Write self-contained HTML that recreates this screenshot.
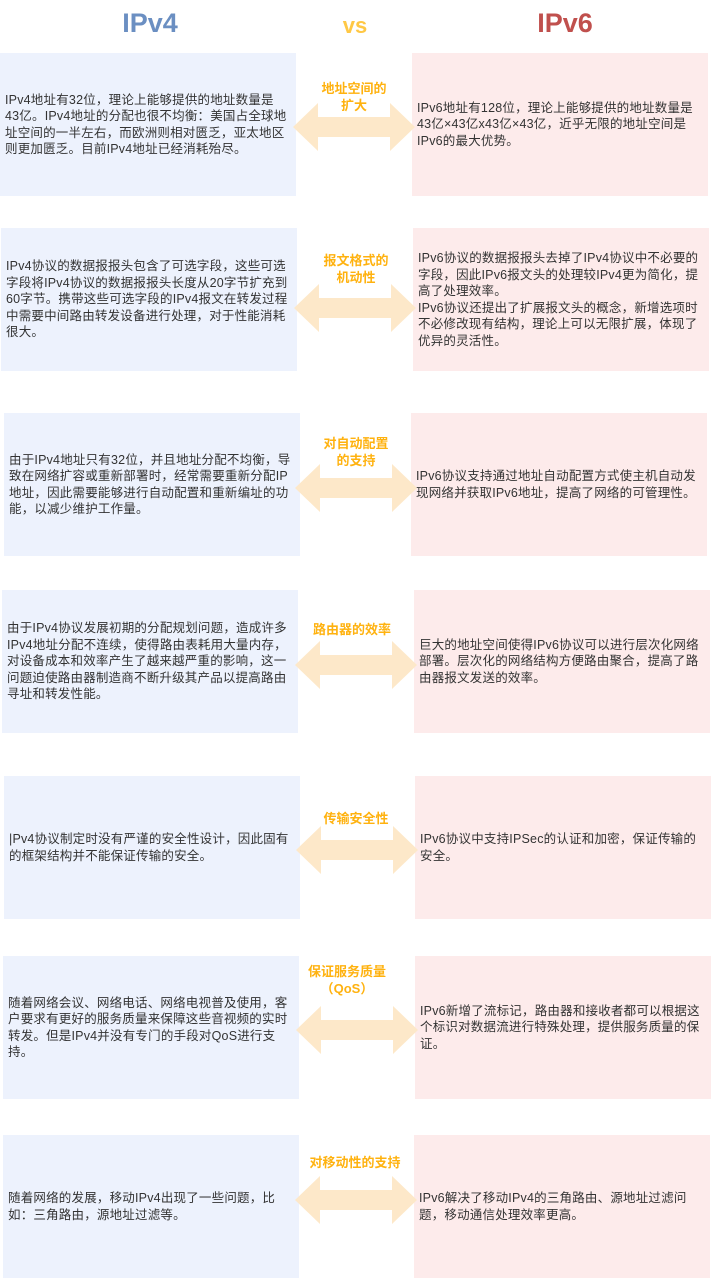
<!DOCTYPE html>
<html><head><meta charset="utf-8"><style>
body{margin:0;width:712px;height:1278px;background:#fff;position:relative;overflow:hidden;font-family:"Liberation Sans","Noto Sans CJK SC",sans-serif;}
.t{position:absolute;top:8px;font-size:27px;font-weight:bold;text-align:center;}
.b{position:absolute;height:143px;width:296px;display:flex;align-items:center;box-sizing:border-box;padding:0 9px 0 5px;font-size:12.5px;line-height:16.5px;color:#333;letter-spacing:0.2px;}
.l{background:#edf2fd;}
.r{background:#fdebeb;}
.lab{position:absolute;width:116px;text-align:center;font-size:13px;font-weight:bold;color:#ffb20f;line-height:17px;}
svg.a{position:absolute;width:122px;height:52px;}
</style></head><body>
<div class="t" style="left:100px;width:100px;color:#6b8fc2;">IPv4</div>
<div class="t" style="left:320px;width:70px;color:#ffc845;font-size:22px;top:13px;">vs</div>
<div class="t" style="left:510px;width:110px;color:#c0504d;">IPv6</div>

<div class="b l" style="left:0;top:53px;">IPv4地址有32位，理论上能够提供的地址数量是43亿。IPv4地址的分配也很不均衡：美国占全球地址空间的一半左右，而欧洲则相对匮乏，亚太地区则更加匮乏。目前IPv4地址已经消耗殆尽。</div>
<div class="b r" style="left:412px;top:53px;">IPv6地址有128位，理论上能够提供的地址数量是43亿×43亿x43亿×43亿，近乎无限的地址空间是IPv6的最大优势。</div>
<div class="lab" style="left:296px;top:80px;">地址空间的<br>扩大</div>
<svg class="a" style="left:293px;top:101px" viewBox="0 0 122 52"><polygon points="0,26 25,2 25,16 97,16 97,2 122,26 97,50 97,36 25,36 25,50" fill="#fde8c9"/></svg>

<div class="b l" style="left:1px;top:228px;">IPv4协议的数据报报头包含了可选字段，这些可选字段将IPv4协议的数据报报头长度从20字节扩充到60字节。携带这些可选字段的IPv4报文在转发过程中需要中间路由转发设备进行处理，对于性能消耗很大。</div>
<div class="b r" style="left:413px;top:228px;">IPv6协议的数据报报头去掉了IPv4协议中不必要的字段，因此IPv6报文头的处理较IPv4更为简化，提高了处理效率。<br>IPv6协议还提出了扩展报文头的概念，新增选项时不必修改现有结构，理论上可以无限扩展，体现了优异的灵活性。</div>
<div class="lab" style="left:298px;top:252px;">报文格式的<br>机动性</div>
<svg class="a" style="left:294px;top:282px" viewBox="0 0 122 52"><polygon points="0,26 25,2 25,16 97,16 97,2 122,26 97,50 97,36 25,36 25,50" fill="#fde8c9"/></svg>

<div class="b l" style="left:4px;top:413px;">由于IPv4地址只有32位，并且地址分配不均衡，导致在网络扩容或重新部署时，经常需要重新分配IP地址，因此需要能够进行自动配置和重新编址的功能，以减少维护工作量。</div>
<div class="b r" style="left:411px;top:413px;">IPv6协议支持通过地址自动配置方式使主机自动发现网络并获取IPv6地址，提高了网络的可管理性。</div>
<div class="lab" style="left:298px;top:435px;">对自动配置<br>的支持</div>
<svg class="a" style="left:295px;top:462px" viewBox="0 0 122 52"><polygon points="0,26 25,2 25,16 97,16 97,2 122,26 97,50 97,36 25,36 25,50" fill="#fde8c9"/></svg>

<div class="b l" style="left:2px;top:590px;">由于IPv4协议发展初期的分配规划问题，造成许多IPv4地址分配不连续，使得路由表耗用大量内存，对设备成本和效率产生了越来越严重的影响，这一问题迫使路由器制造商不断升级其产品以提高路由寻址和转发性能。</div>
<div class="b r" style="left:414px;top:590px;">巨大的地址空间使得IPv6协议可以进行层次化网络部署。层次化的网络结构方便路由聚合，提高了路由器报文发送的效率。</div>
<div class="lab" style="left:294px;top:621px;">路由器的效率</div>
<svg class="a" style="left:295px;top:639px" viewBox="0 0 122 52"><polygon points="0,26 25,2 25,16 97,16 97,2 122,26 97,50 97,36 25,36 25,50" fill="#fde8c9"/></svg>

<div class="b l" style="left:4px;top:776px;">|Pv4协议制定时没有严谨的安全性设计，因此固有的框架结构并不能保证传输的安全。</div>
<div class="b r" style="left:415px;top:776px;">IPv6协议中支持IPSec的认证和加密，保证传输的安全。</div>
<div class="lab" style="left:298px;top:810px;">传输安全性</div>
<svg class="a" style="left:296px;top:824px" viewBox="0 0 122 52"><polygon points="0,26 25,2 25,16 97,16 97,2 122,26 97,50 97,36 25,36 25,50" fill="#fde8c9"/></svg>

<div class="b l" style="left:3px;top:956px;">随着网络会议、网络电话、网络电视普及使用，客户要求有更好的服务质量来保障这些音视频的实时转发。但是IPv4并没有专门的手段对QoS进行支持。</div>
<div class="b r" style="left:415px;top:956px;">IPv6新增了流标记，路由器和接收者都可以根据这个标识对数据流进行特殊处理，提供服务质量的保证。</div>
<div class="lab" style="left:289px;top:963px;">保证服务质量<br>（QoS）</div>
<svg class="a" style="left:296px;top:1004px" viewBox="0 0 122 52"><polygon points="0,26 25,2 25,16 97,16 97,2 122,26 97,50 97,36 25,36 25,50" fill="#fde8c9"/></svg>

<div class="b l" style="left:3px;top:1135px;">随着网络的发展，移动IPv4出现了一些问题，比如：三角路由，源地址过滤等。</div>
<div class="b r" style="left:414px;top:1135px;">IPv6解决了移动IPv4的三角路由、源地址过滤问题，移动通信处理效率更高。</div>
<div class="lab" style="left:296px;top:1154px;width:118px;">对移动性的支持</div>
<svg class="a" style="left:295px;top:1174px" viewBox="0 0 122 52"><polygon points="0,26 25,2 25,16 97,16 97,2 122,26 97,50 97,36 25,36 25,50" fill="#fde8c9"/></svg>
</body></html>
